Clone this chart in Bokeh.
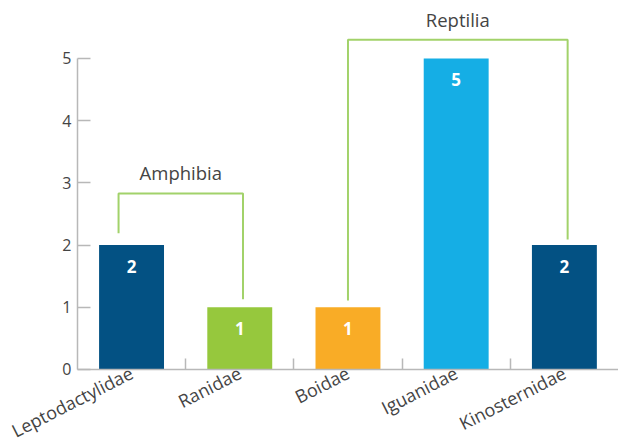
from bokeh.plotting import figure
from bokeh.models import Range1d, FixedTicker
from bokeh.core.properties import value
from bokeh.embed import file_html
from bokeh.resources import INLINE

# Species families counted, grouped by class
families = ["Leptodactylidae", "Ranidae", "Boidae", "Iguanidae", "Kinosternidae"]
counts = [2, 1, 1, 5, 2]
bar_colors = ["#035183", "#96C83D", "#F9AC26", "#15AEE5", "#035183"]

group_names = ["Amphibia", "Reptilia"]
group_first = [0, 2]   # index of first family in each group
group_last = [1, 4]    # index of last family in each group

FONT = "Open Sans"
TEXT = "#444444"
AXIS = "#b8b8b8"
BRACKET = "#A2D26A"

n = len(families)
centers = [i + 0.5 for i in range(n)]

# the frame fills the whole canvas; both axes are pinned at 0 so their
# labels have room around them inside the frame
p = figure(width=618, height=445,
           x_range=Range1d(-0.711, 5.0), y_range=Range1d(-1.222, 5.932),
           output_backend="svg", toolbar_location=None,
           min_border_left=0, min_border_right=0,
           min_border_top=0, min_border_bottom=0)
p.outline_line_color = None
p.xgrid.visible = False
p.ygrid.visible = False

# bars
p.vbar(x=centers, top=counts, width=0.6, fill_color=bar_colors,
       line_color=None)

# value labels inside the bars
p.text(x=centers, y=counts, text=[str(c) for c in counts],
       text_color="white", text_font=value(FONT), text_font_style="bold",
       text_font_size="17px", text_align="center", text_baseline="middle",
       y_offset=21)

# group brackets above the bars
bracket_tops = [2.83, 5.30]
leg_dx = [(-0.12, 0.03), (0.0, 0.03)]
leg_gap = [(0.19, 0.13), (0.11, 0.09)]
for gi, name in enumerate(group_names):
    i0, i1 = group_first[gi], group_last[gi]
    xl = centers[i0] + leg_dx[gi][0]
    xr = centers[i1] + leg_dx[gi][1]
    top = bracket_tops[gi]
    yl = counts[i0] + leg_gap[gi][0]
    yr = counts[i1] + leg_gap[gi][1]
    p.line(x=[xl, xl, xr, xr], y=[yl, top, top, yr],
           line_color=BRACKET, line_width=2)
    p.text(x=[(xl + xr) / 2], y=[top], text=[name],
           text_color=TEXT, text_font=value(FONT), text_font_size="18.5px",
           text_align="center", text_baseline="bottom", y_offset=-8)

# x axis: labels under each bar, small ticks between categories
xa = p.xaxis[0]
xa.fixed_location = 0
xa.bounds = (0, n)
xa.ticker = FixedTicker(ticks=centers, minor_ticks=list(range(1, n)))
xa.major_label_overrides = {c: f for c, f in zip(centers, families)}
xa.major_tick_line_color = None
xa.major_tick_in = 0
xa.major_tick_out = 0
xa.minor_tick_in = 11
xa.minor_tick_out = 0
xa.minor_tick_line_color = AXIS
xa.minor_tick_line_width = 1.5
xa.axis_line_color = AXIS
xa.axis_line_width = 1.5
xa.major_label_orientation = 0.47
xa.major_label_standoff = 2
xa.major_label_text_font = FONT
xa.major_label_text_font_size = "18px"
xa.major_label_text_color = TEXT

# y axis
ya = p.yaxis[0]
ya.fixed_location = 0
ya.ticker = FixedTicker(ticks=[0, 1, 2, 3, 4, 5])
ya.bounds = (0, 5)
ya.major_tick_in = 13
ya.major_tick_out = 0
ya.minor_tick_line_color = None
ya.major_tick_line_color = AXIS
ya.major_tick_line_width = 1.5
ya.axis_line_color = AXIS
ya.axis_line_width = 1.5
ya.major_label_standoff = 6
ya.major_label_text_font = FONT
ya.major_label_text_font_size = "16px"
ya.major_label_text_color = TEXT

open("out.html", "w").write(file_html(p, INLINE))
